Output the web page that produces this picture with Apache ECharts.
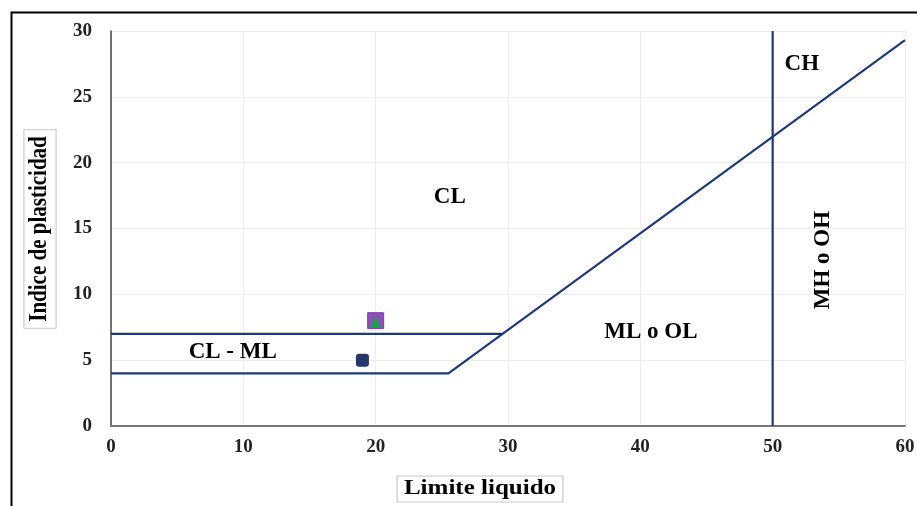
<!DOCTYPE html>
<html>
<head>
<meta charset="utf-8">
<script src="https://cdn.jsdelivr.net/npm/echarts@6/dist/echarts.min.js"></script>
<style>
html,body{margin:0;padding:0;background:#fff;}
#c{width:917px;height:506px;}
</style>
</head>
<body>
<div id="c"></div>
<script>
// Data
var xTicks = [0, 10, 20, 30, 40, 50, 60];
var yTicks = [0, 5, 10, 15, 20, 25, 30];
var lowerLine = [[0, 4], [25.5, 4], [60, 29.3]];   // PI=4 then A-line
var upperLine = [[0, 7], [29.6, 7]];               // PI=7
var vertLine = [[50, 0], [50, 30]];                // LL=50
var sample1 = [[19, 5]];
var sample2 = [[20, 8]];
var zoneLabels = [
  {name: 'CL', value: [25.6, 17.4], rotate: 0},
  {name: 'CL - ML', value: [9.2, 5.6], rotate: 0},
  {name: 'ML o OL', value: [40.8, 7.1], rotate: 0},
  {name: 'CH', value: [52.2, 27.5], rotate: 0},
  {name: 'MH o OH', value: [53.8, 12.6], rotate: 90}
];
var xTitle = 'Limite liquido';
var yTitle = 'Indice de plasticidad';

var lineColor = '#1f3878';
var serif = '"Liberation Serif", "DejaVu Serif", serif';

var chart = echarts.init(document.getElementById('c'));
chart.setOption({
  animation: false,
  backgroundColor: '#fff',
  grid: {left: 111, right: 12, top: 31, bottom: 80, outerBoundsMode: 'none', containLabel: false},
  graphic: [{
    type: 'rect', left: 9, top: 10,
    shape: {width: 1000, height: 600},
    style: {fill: 'none', stroke: '#000', lineWidth: 2},
    z: 100
  }, {
    type: 'text', x: 480, y: 489, scaleX: 1.25,
    style: {text: xTitle, font: 'bold 20px ' + serif, fill: '#000',
      align: 'center', verticalAlign: 'middle',
      backgroundColor: '#fff', borderColor: '#c8c8c8', borderWidth: 1, padding: [3, 5, 2, 5]},
    z: 50
  }, {
    type: 'text', x: 40, y: 229, rotation: Math.PI / 2, scaleY: 1.15,
    style: {text: yTitle, font: 'bold 21px ' + serif, fill: '#000',
      align: 'center', verticalAlign: 'middle',
      backgroundColor: '#fff', borderColor: '#c8c8c8', borderWidth: 1, padding: [4, 6, 2, 6]},
    z: 50
  }],
  xAxis: {
    type: 'value', min: 0, max: 60, interval: 10,
    axisLine: {show: true, lineStyle: {color: '#777', width: 2}},
    axisTick: {show: false},
    splitLine: {show: true, lineStyle: {color: '#ececec', width: 1}},
    axisLabel: {fontFamily: serif, fontWeight: 'bold', fontSize: 19, color: '#222', margin: 12,
      formatter: function (v) { return xTicks.indexOf(v) >= 0 ? String(v) : ''; }}
  },
  yAxis: {
    type: 'value', min: 0, max: 30, interval: 5,
    axisLine: {show: true, lineStyle: {color: '#444', width: 1.5}},
    axisTick: {show: false},
    splitLine: {show: true, lineStyle: {color: '#ececec', width: 1}},
    axisLabel: {fontFamily: serif, fontWeight: 'bold', fontSize: 19, color: '#222', margin: 19,
      formatter: function (v) { return yTicks.indexOf(v) >= 0 ? String(v) : ''; }}
  },
  series: [
    {type: 'line', data: lowerLine, symbol: 'none', lineStyle: {color: lineColor, width: 2.2}, z: 3},
    {type: 'line', data: upperLine, symbol: 'none', lineStyle: {color: lineColor, width: 2.2}, z: 3},
    {type: 'line', data: vertLine, symbol: 'none', lineStyle: {color: lineColor, width: 2.2}, z: 3},
    {type: 'scatter', data: sample1, symbol: 'roundRect', symbolSize: 13,
      itemStyle: {color: '#22386a', opacity: 1}, z: 5},
    {type: 'scatter', data: sample2, symbol: 'rect', symbolSize: 16,
      itemStyle: {color: '#8e4fba', borderColor: '#7d3fa6', borderWidth: 1, opacity: 1}, z: 5},
    {type: 'scatter', data: sample2, symbol: 'triangle', symbolSize: 11, symbolOffset: [0, 1],
      itemStyle: {color: '#16a34a', opacity: 1}, z: 6},
    {type: 'scatter', symbolSize: 0, z: 7, itemStyle: {opacity: 1},
      data: zoneLabels.map(function (d) {
        return {name: d.name, value: d.value,
          label: {show: true, position: 'inside', formatter: d.name, rotate: d.rotate,
            fontFamily: serif, fontWeight: 'bold', fontSize: 23, color: '#000'}};
      })
    }
  ]
});
</script>
</body>
</html>
